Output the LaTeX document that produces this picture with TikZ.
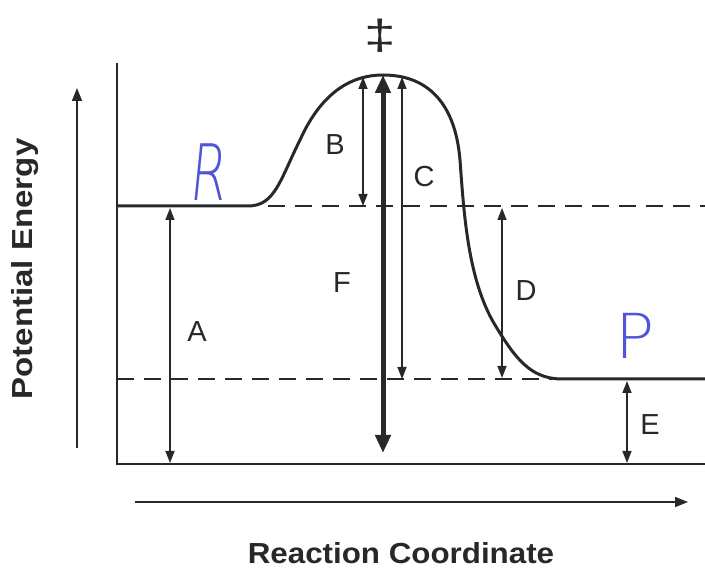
\documentclass[tikz,border=0pt]{standalone}
\usepackage{fontspec}
\setmainfont{Liberation Sans}
\newfontfamily\handfont{DejaVuSans-ExtraLight.ttf}
\usetikzlibrary{arrows.meta}
\definecolor{ink}{RGB}{40,40,40}
\definecolor{pen}{RGB}{80,85,215}
\tikzset{
  curveline/.style={line width=3pt, ink},
  axisline/.style={line width=2.4pt, ink},
  dashline/.style={line width=2pt, ink, dash pattern=on 17pt off 10pt},
  dimarrow/.style={line width=1.6pt, ink, {Triangle[length=12pt,width=9pt]}-{Triangle[length=12pt,width=9pt]}},
  bigarrow/.style={line width=5pt, ink, {Triangle[length=18pt,width=15pt]}-{Triangle[length=18pt,width=15pt]}},
  axisarrow/.style={line width=1.6pt, ink, -{Triangle[length=13pt,width=10pt]}},
  lbl/.style={font=\fontsize{29}{29}\selectfont, text=ink, inner sep=0pt},
  axlbl/.style={font=\fontsize{29}{29}\selectfont\bfseries, text=ink, inner sep=0pt},
  hand/.style={text=pen, inner sep=0pt}
}
\begin{document}
\begin{tikzpicture}[x=1pt,y=-1pt]
\useasboundingbox (0,0) rectangle (705,569);
% frame
\coordinate (tl) at (117,63);
\coordinate (bl) at (117,464);
\coordinate (br) at (705,464);
\draw[axisline] (tl) -- (bl) -- (br);
% axes arrows
\coordinate (ya0) at (77,448); \coordinate (ya1) at (77,88);
\draw[axisarrow] (ya0) -- (ya1);
\coordinate (xa0) at (135,502); \coordinate (xa1) at (688,502);
\draw[axisarrow] (xa0) -- (xa1);
% dashed reference levels
\coordinate (ud0) at (268,206); \coordinate (ud1) at (705,206);
\draw[dashline] (ud0) -- (ud1);
\coordinate (ld0) at (117,379); \coordinate (ld1) at (552,379);
\draw[dashline] (ld0) -- (ld1);
% energy curve
\coordinate (r0) at (117,206);
\coordinate (peak) at (383,75);
\coordinate (p1) at (705,379);
\draw[curveline] (r0) -- (248,206)
  .. controls (275,206) and (280,180) .. (300,140)
  .. controls (318,100) and (345,75) .. (peak)
  .. controls (425,75) and (455,100) .. (460,160)
  .. controls (464,215) and (468,280) .. (495,325)
  .. controls (515,358) and (530,378) .. (560,379) -- (p1);
% dimension arrows
\coordinate (a0) at (170,208); \coordinate (a1) at (170,463);
\draw[dimarrow] (a0) -- (a1);
\coordinate (b0) at (363,77); \coordinate (b1) at (363,206);
\draw[dimarrow] (b0) -- (b1);
\coordinate (c0) at (402,77); \coordinate (c1) at (402,379);
\draw[dimarrow] (c0) -- (c1);
\coordinate (d0) at (502,208); \coordinate (d1) at (502,378);
\draw[dimarrow] (d0) -- (d1);
\coordinate (e0) at (627,381); \coordinate (e1) at (627,463);
\draw[dimarrow] (e0) -- (e1);
\coordinate (f0) at (383,75); \coordinate (f1) at (383,453);
\draw[bigarrow] (f0) -- (f1);
% labels
\node[lbl] (lA) at (197,332) {A};
\node[lbl] (lB) at (335,145) {B};
\node[lbl] (lC) at (424,177) {C};
\node[lbl] (lD) at (526,291) {D};
\node[lbl] (lE) at (650,425) {E};
\node[lbl] (lF) at (342,283) {F};
\node[hand, font=\fontsize{66}{66}\handfont, xscale=0.8, yscale=1.18, xslant=0.15] (lR) at (210,172) {R};
\node[hand, font=\fontsize{62}{62}\handfont, xscale=1.05] (lP) at (635,336) {P};
\node[font=\fontsize{42}{42}\selectfont, text=ink, inner sep=0pt, xscale=1.35] (dd) at (380,36) {‡};
\node[axlbl, rotate=90, xscale=1.14] (yl) at (25,269) {Potential Energy};
\node[axlbl, xscale=1.08] (xl) at (401,553) {Reaction Coordinate};
\end{tikzpicture}
\end{document}
